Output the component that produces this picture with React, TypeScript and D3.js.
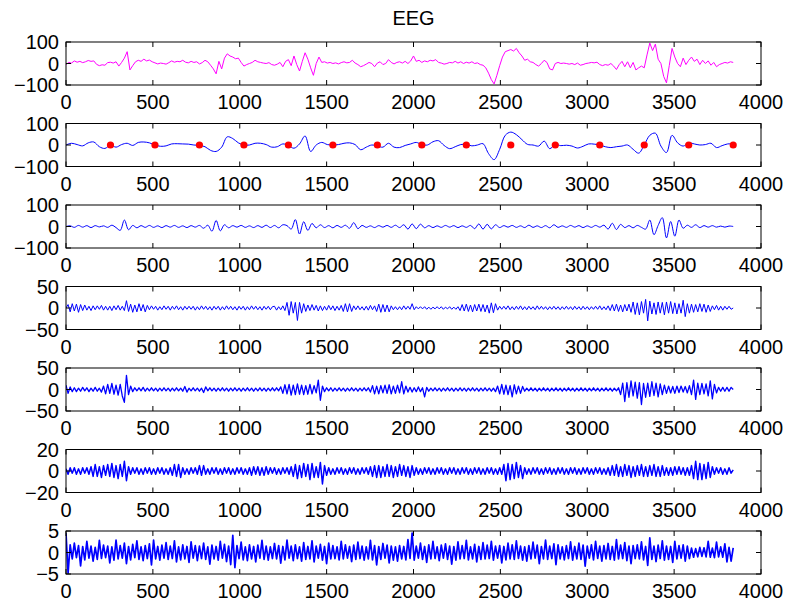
import React from "react";
import * as d3 from "d3";

// sample axis
const X_DOMAIN = [0, 4000];
const X_TICKS = [0, 500, 1000, 1500, 2000, 2500, 3000, 3500, 4000];

// y ticks for each row
const Y_TICKS_100 = [-100, 0, 100];
const Y_TICKS_50 = [-50, 0, 50];
const Y_TICKS_20 = [-20, 0, 20];
const Y_TICKS_5 = [-5, 0, 5];

// raw EEG, one value every 16 samples
const RAW_STEP = 16;
const rawEeg = [
  -5, 5, 2, 12, 6, 10, 4, 8, 14, 10,
  12, -4, -10, -6, -8, 4, 6, 2, 8, -12,
  5, 25, 55, -30, -10, 8, 15, 10, 20, 12,
  16, 8, 3, -2, 2, 0, -3, 4, 12, 6,
  10, 8, 15, 6, 3, 10, 5, 8, -2, 4,
  15, 8, -8, -25, -48, 10, -25, 25, 45, 35,
  30, 22, 25, 5, -12, -5, 0, 5, 15, 8,
  5, 2, 0, 4, -5, -8, -3, 5, -15, 10,
  18, -10, 35, -5, -35, 10, 50, 20, -20, -55,
  0, 30, 5, 8, 2, 5, 0, 3, -2, 4,
  8, 3, 5, 15, 2, -5, -15, -10, -3, 5,
  0, -15, 2, 8, -5, 0, 18, 5, -2, 5,
  8, 2, 10, 0, 12, 35, 10, 15, 5, 12,
  8, 15, 12, 18, 5, 2, -3, 0, 5, 3,
  10, 2, 8, 0, 6, 2, 8, 0, 3, -5,
  -8, -20, -45, -75, -95, -55, -10, 30, 55, 60,
  65, 58, 70, 50, 35, 15, 20, 8, 5, -5,
  -12, 0, 15, 5, -25, -30, 0, 5, 0, 2,
  0, -3, 0, -5, 2, -8, -5, 0, 2, 5,
  3, 6, -5, -10, -5, -8, 0, -12, -28, -5,
  10, -15, 8, -20, 5, -30, -20, -12, -20, 40,
  95, 60, 90, 20, 0, -60, -90, -10, 70, 30,
  0, -15, 25, -5, 15, 30, 10, 20, -5, 15,
  0, 12, -8, 5, -15, -5, 0, 5, 2, 8,
  5,
];

// smoothed band, one value every 32 samples
const SMOOTH_STEP = 32;
const smoothBand = [
  0, 8, 2, -4, 10, 14, -8, -16, 0, -10,
  2, 8, -2, 12, 14, 10, 0, -6, -4, 5,
  6, 5, 4, 0, -2, -8, -25, -30, -10, 38,
  30, 10, 0, 0, 8, 8, 2, -10, -8, 5,
  -2, -15, 5, 42, -30, 0, 12, 2, 0, 2,
  8, 10, 2, -22, -10, 0, -5, -10, 8, -10,
  -12, -2, 5, 12, 2, 0, 15, 20, -2, -17,
  -8, 2, 3, -4, 0, 6, -40, -68, -20, 45,
  60, 48, 25, 3, 0, -5, 18, -17, 2, -3,
  -1, -5, -14, -6, 5, 4, 0, -8, -12, -8,
  -5, 0, -20, -38, 0, 45, 55, -5, -35, 45,
  10, -5, 10, 5, 0, 2, 8, -12, -3, 5,
  5,
];

// sample positions of the red markers
const markerSamples = [256, 512, 768, 1024, 1280, 1536, 1792, 2048, 2304, 2560, 2816, 3072, 3328, 3584, 3840];
const markerValues = [0, 0, 0, 0, 0, 0, 0, 0, 0, 0, 0, 0, 0, 0, 0];

// band 3, one value every 24 samples
const BAND3_STEP = 24;
const band3 = [
  0, 3, -4, 5, -3, 4, -5, 4, -2, 3,
  -4, 6, -5, -18, 30, -15, 5, -6, 4, -4,
  5, -4, 3, -5, 4, -3, 5, -4, 3, -5,
  4, -3, 5, -8, 6, -22, 28, -20, 8, -6,
  4, -3, 5, -4, 3, -5, 4, -4, 6, -5,
  5, -6, 8, 4, -12, 32, -35, 22, -18, 14,
  -6, 8, -5, 4, -6, 5, -4, 6, -8, 18,
  -10, 5, -4, 3, -5, 4, -3, 5, -4, 6,
  -5, 8, -12, 12, -10, 11, -6, 4, -5, 3,
  -4, 5, -3, 4, -5, 3, -4, 5, -10, 12,
  -12, 10, -11, 8, -5, 4, -3, 5, -4, 3,
  -5, 6, -4, 3, -5, 4, -6, 8, -4, 3,
  -4, 5, -3, 4, -5, 3, -4, 5, -3, 6,
  -12, 15, -14, 10, -5, 4, -6, 5, -4, -12,
  30, -38, 5, 41, -53, 23, -45, 30, -8, 6,
  -4, 8, -5, 4, -3, 4, -3, 2, -3, 2,
  0,
];

// bands 4..7, one value every 12 samples
const FINE_STEP = 12;
const band4 = [
  0, 8, -9, 10, -7, 9, -10, 8, -6, 7,
  -5, 4, -6, 5, -4, 5, -3, 6, -5, 4,
  -5, 4, -6, 5, -4, 6, -5, 4, -6, 17,
  -8, 9, -10, 7, -9, 10, -7, 8, -9, 6,
  -4, 5, -3, 4, -5, 3, -4, 5, -3, 4,
  -5, 4, -3, 5, -4, 3, -5, 4, -3, 4,
  -3, 4, -5, 3, -4, 5, -3, 4, -4, 3,
  -5, 4, -3, 4, -5, 3, -4, 5, -3, 4,
  -4, 3, -5, 4, -3, 4, -5, 3, -4, 5,
  -3, 4, -4, 3, -5, 4, -3, 4, -4, 3,
  4, -5, 3, -4, 5, -6, 13, -17, 15, -12,
  13, -29, 13, -12, 10, -8, 7, -6, 8, -5,
  6, -7, 5, -6, 4, -5, 6, -4, 5, -6,
  4, -5, 6, -8, 10, -9, 10, -8, 5, -4,
  5, -4, 3, -5, 4, -5, 6, -4, 5, -8,
  9, -10, 8, -9, 7, -9, 5, -4, 3, -4,
  3, -4, 5, -3, 4, -3, 10, -4, 3, -2,
  3, -2, 3, -3, 2, -3, 2, -2, 3, -2,
  3, -3, 2, -2, 3, -3, 2, -3, 3, -6,
  8, -7, 9, -8, 7, -9, 8, -7, 9, -8,
  8, -9, 7, -12, 12, -11, 10, -5, 4, -3,
  4, -3, 5, -4, 3, -4, 4, -3, 5, -4,
  3, -4, 4, -3, 3, -4, 5, -3, 4, -3,
  3, -4, 3, -3, 4, -3, 3, -4, 3, -3,
  4, -3, 3, -4, 4, -3, 3, -4, 4, -3,
  3, -4, 3, -3, 4, -3, 5, -4, 3, -4,
  5, -6, 8, -7, 9, -8, 7, -9, 8, -7,
  9, -10, 14, -15, 12, -16, 15, -12, 20, -30,
  16, -14, 12, -15, 14, -12, 13, -16, 14, -12,
  15, -13, 12, -14, 10, -12, 18, -20, 10, -12,
  9, -10, 8, -9, 10, -8, 9, -10, 7, -8,
  5, -4, 6, -5, 4, -5, 4, -3, 4, -3,
  0,
];

const band5 = [
  10, -9, 6, -5, 4, -5, 3, -4, 5, -3,
  4, -5, 3, -4, 5, -4, 3, -6, 8, -10,
  12, -9, 14, -11, 10, -13, 12, -15, -30, 33,
  -12, 8, -5, 4, -3, 4, -3, 5, -4, 3,
  -3, 4, -3, 3, -4, 3, -3, 4, -3, 3,
  -4, 3, -3, 4, -3, 3, -4, 7, -6, 3,
  -3, 4, -3, 3, -4, 3, -7, 6, -3, 4,
  -3, 3, -4, 3, -3, 4, -3, 3, -4, 3,
  -3, 4, -3, 3, -4, 3, -3, 4, -3, 3,
  -4, 3, -3, 4, -3, 3, -4, 3, -3, 4,
  -3, 4, -3, 6, -9, 11, -10, 12, -13, 10,
  -12, 13, -11, 10, -12, 9, -11, 12, -10, 9,
  -8, 22, -25, 8, -5, 4, -3, 4, -4, 3,
  -3, 4, -3, 3, -4, 3, -3, 4, -3, 3,
  -4, 3, -3, 4, -3, 4, -6, 9, -10, 8,
  -10, 9, -8, 10, -9, 11, -10, 8, -9, 10,
  -8, 18, -10, 8, -6, 5, -6, 4, -5, 6,
  -5, 4, -17, 5, -4, 3, -3, 4, -3, 3,
  -4, 3, -3, 4, -3, 3, -4, 3, -3, 4,
  -3, 3, -4, 3, -3, 4, -3, 3, -4, 3,
  -3, 4, -3, 3, -4, 3, -5, 8, -10, 12,
  -11, 10, -12, 9, -17, 11, -10, 8, -9, 7,
  -4, 3, -3, 4, -3, 3, -4, 3, -3, 4,
  -3, 3, -4, 3, -3, 4, -3, 3, -4, 3,
  -3, 4, -3, 3, -4, 3, -3, 4, -3, 3,
  -4, 3, -3, 4, -3, 3, -4, 3, -3, 4,
  -3, 3, -4, 3, -3, 4, -12, 15, -28, 16,
  -18, 20, -15, 17, -20, 16, -35, 14, -18, 15,
  -16, 18, -14, 15, -17, 13, -12, 10, -9, 8,
  -8, 7, -9, 8, -7, 8, -6, 7, -8, 9,
  -12, 22, -23, 15, -12, 14, -10, 13, -15, 20,
  -22, 12, -8, 5, -4, 5, -4, 5, -4, 5,
  0,
];

const band6 = [
  2, -3, 3, -2, 3, -3, 2, -3, 3, -2,
  3, -3, 4, -5, 6, -5, 4, -6, 5, -4,
  6, -5, 7, -6, 5, -7, 6, -5, 9, -9,
  4, -3, 3, -2, 3, -3, 2, -3, 3, -2,
  3, -3, 2, -3, 3, -2, 3, -3, 2, -3,
  3, -4, 6, -5, 6, -6, 3, -3, 2, -3,
  3, -2, 3, -3, 5, -4, 5, -3, 2, -3,
  3, -2, 3, -3, 2, -3, 3, -2, 3, -3,
  2, -3, 3, -2, 3, -3, 2, -3, 3, -4,
  4, -3, 4, -4, 3, -4, 4, -3, 3, -2,
  3, -3, 2, -3, 3, -2, 3, -3, 4, -5,
  6, -7, 5, -6, 7, -5, 6, -8, 7, -6,
  4, -6, 8, -12, 5, -4, 3, -3, 2, -3,
  3, -2, 3, -3, 2, -3, 3, -2, 3, -3,
  2, -3, 3, -2, 3, -3, 4, -5, 5, -6,
  5, -6, 4, -5, 6, -5, 5, -6, 4, -5,
  6, -4, 5, -5, 4, -6, 5, -4, 3, -3,
  2, -3, 3, -2, 3, -3, 2, -3, 3, -2,
  3, -3, 2, -3, 3, -2, 3, -3, 2, -3,
  3, -2, 3, -3, 2, -3, 3, -2, 3, -3,
  2, -3, 3, -2, 3, -3, 2, -3, 3, -3,
  6, -9, 7, -8, 6, -7, 8, -6, 5, -7,
  3, -3, 2, -3, 3, -2, 3, -3, 2, -3,
  3, -2, 3, -3, 2, -3, 3, -2, 3, -3,
  2, -3, 3, -2, 3, -3, 2, -3, 3, -2,
  3, -3, 2, -3, 3, -2, 3, -3, 2, -3,
  3, -4, 5, -4, 6, -5, 4, -5, 6, -4,
  5, -6, 4, -5, 5, -4, 6, -5, 4, -5,
  5, -4, 6, -5, 4, -5, 5, -4, 3, -4,
  3, -4, 4, -3, 4, -3, 3, -4, 3, -4,
  5, -7, 9, -8, 7, -8, 6, -7, 8, -6,
  4, -3, 3, -2, 3, -3, 2, -3, 3, -2,
  1,
];

const band7 = [
  4.5, -4.8, 1.8, -1.5, 2.2, -1.2, 1.6, -3.1, 1.4, -1.7,
  2.6, -1.3, 1.5, -2.0, 1.2, -1.6, 2.8, -1.4, 1.7, -1.2,
  1.5, -2.4, 1.3, -1.8, 2.9, -1.5, 1.6, -1.3, 2.2, -2.6,
  1.4, -1.7, 1.9, -1.2, 2.7, -1.6, 1.3, -1.9, 1.6, -1.4,
  2.0, -2.9, 2.9, -1.5, 1.4, -1.8, 1.7, -1.3, 2.3, -1.6,
  1.5, -1.4, 2.7, -2.2, 1.3, -1.7, 1.8, -1.5, 1.4, -2.3,
  2.5, -1.3, 1.6, -1.9, 1.5, -1.4, 2.2, -1.6, 1.3, -2.7,
  1.7, -1.5, 1.4, -1.8, 2.6, -1.3, 1.9, -2.1, 1.5, -2.8,
  4.0, -3.5, 1.6, -1.4, 2.4, -1.7, 1.3, -1.9, 1.8, -1.5,
  1.4, -2.2, 1.7, -1.3, 2.8, -1.6, 1.5, -1.8, 1.3, -1.4,
  2.1, -1.5, 1.6, -2.5, 1.4, -1.7, 2.9, -1.3, 1.5, -1.9,
  1.8, -1.4, 1.3, -2.0, 2.3, -1.6, 1.4, -1.5, 2.7, -2.2,
  1.5, -1.3, 1.9, -1.8, 1.4, -2.6, 2.2, -1.5, 1.6, -1.4,
  1.3, -1.7, 2.6, -1.5, 1.8, -1.3, 1.4, -2.1, 1.7, -1.6,
  2.4, -1.4, 1.5, -1.8, 1.3, -1.5, 2.8, -1.7, 1.6, -2.9,
  1.4, -1.6, 2.1, -1.3, 1.7, -2.4, 1.5, -1.8, 1.3, -2.0,
  1.6, -1.5, 1.4, -1.7, 3.0, -1.4, 4.5, -1.8, 1.5, -1.3,
  2.2, -1.6, 1.4, -2.3, 1.8, -1.5, 2.6, -1.4, 1.3, -1.9,
  1.7, -1.3, 2.0, -1.6, 1.5, -2.7, 1.4, -1.8, 2.5, -1.5,
  1.6, -1.4, 2.8, -1.7, 1.3, -1.5, 1.9, -2.2, 1.4, -1.6,
  2.3, -1.5, 1.7, -1.4, 2.6, -1.8, 1.5, -1.3, 1.6, -2.4,
  1.4, -1.7, 2.2, -1.5, 1.8, -1.6, 2.7, -1.4, 1.5, -1.8,
  1.3, -2.0, 1.6, -1.5, 2.4, -1.3, 1.7, -2.6, 1.4, -1.5,
  2.9, -1.6, 1.5, -1.4, 2.0, -2.8, 1.8, -1.5, 1.3, -1.7,
  1.6, -1.4, 2.5, -1.8, 1.4, -1.5, 2.2, -1.6, 1.7, -3.2,
  1.5, -1.3, 1.8, -1.7, 2.6, -1.4, 1.5, -2.0, 1.6, -1.5,
  2.1, -1.6, 1.4, -1.8, 3.0, -1.5, 1.7, -1.4, 2.3, -1.9,
  1.5, -2.6, 1.6, -1.4, 1.8, -1.5, 2.5, -1.7, 1.4, -3.0,
  3.4, -1.6, 1.5, -2.1, 1.7, -1.4, 2.7, -1.8, 1.5, -1.6,
  1.4, -2.3, 2.6, -1.5, 1.6, -1.3, 1.8, -2.0, 1.5, -1.4,
  1.0, -1.1, 0.9, -1.0, 1.2, -0.9, 1.1, -1.0, 2.6, -1.1,
  1.0, -1.2, 2.4, -1.0, 1.3, -1.1, 2.0, -2.2, 1.2, -2.0,
  1.1,
];

const panels = [
  { values: rawEeg, step: RAW_STEP, ticks: Y_TICKS_100, color: "#ff00ff", smooth: false, lw: 1 },
  { values: smoothBand, step: SMOOTH_STEP, ticks: Y_TICKS_100, color: "#0000ff", smooth: true, lw: 1 },
  { values: band3, step: BAND3_STEP, ticks: Y_TICKS_100, color: "#0000ff", smooth: true, lw: 1 },
  { values: band4, step: FINE_STEP, ticks: Y_TICKS_50, color: "#0000ff", smooth: false, lw: 1 },
  { values: band5, step: FINE_STEP, ticks: Y_TICKS_50, color: "#0000ff", smooth: false, lw: 1.3 },
  { values: band6, step: FINE_STEP, ticks: Y_TICKS_20, color: "#0000ff", smooth: false, lw: 1.5 },
  { values: band7, step: FINE_STEP, ticks: Y_TICKS_5, color: "#0000ff", smooth: false, lw: 1.7 },
];

const W = 788;
const H = 609;
const left = 66;
const right = 761;
const firstTop = 42;
const rowGap = 81.5;
const boxH = 43;
const tickLen = 5;
const font = "'Liberation Sans', Arial, Helvetica, sans-serif";
const fmt = (v: number) => (v < 0 ? "\u2212" + Math.abs(v) : String(v));

export default function App() {
  const x = d3.scaleLinear().domain(X_DOMAIN).range([left, right]);

  return (
    <svg
      width={W}
      height={H}
      style={{ position: "absolute", left: 0, top: 0, background: "#fff" }}
      fontFamily={font}
    >
      <rect width={W} height={H} fill="#fff" />
      <text x={(left + right) / 2} y={25} fontSize={20} textAnchor="middle">
        EEG
      </text>
      {panels.map((p, k) => {
        const top = firstTop + k * rowGap;
        const bottom = top + boxH;
        const y = d3
          .scaleLinear()
          .domain([p.ticks[0], p.ticks[p.ticks.length - 1]])
          .range([bottom, top]);
        const line = d3
          .line<number>()
          .x((_, i) => x(i * p.step))
          .y((d) => y(d))
          .curve(p.smooth ? d3.curveCatmullRom : d3.curveLinear);
        return (
          <g key={k}>
            <defs>
              <clipPath id={"clip" + k}>
                <rect x={left} y={top} width={right - left} height={boxH} />
              </clipPath>
            </defs>
            <rect x={left} y={top} width={right - left} height={boxH} fill="#fff" />
            <path
              d={line(p.values) || ""}
              fill="none"
              stroke={p.color}
              strokeWidth={p.lw}
              strokeLinejoin="round"
              clipPath={`url(#clip${k})`}
            />
            {k === 1 &&
              markerSamples.map((s, i) => (
                <circle key={s} cx={x(s)} cy={y(markerValues[i])} r={3.6} fill="#ff0000" />
              ))}
            <rect
              x={left}
              y={top}
              width={right - left}
              height={boxH}
              fill="none"
              stroke="#000"
              strokeWidth={1}
            />
            {X_TICKS.map((t) => (
              <g key={"x" + t}>
                <line x1={x(t)} x2={x(t)} y1={bottom} y2={bottom - tickLen} stroke="#000" />
                <line x1={x(t)} x2={x(t)} y1={top} y2={top + tickLen} stroke="#000" />
                <text x={x(t)} y={bottom + 24} fontSize={20} textAnchor="middle">
                  {fmt(t)}
                </text>
              </g>
            ))}
            {p.ticks.map((t) => (
              <g key={"y" + t}>
                <line x1={left} x2={left + tickLen} y1={y(t)} y2={y(t)} stroke="#000" />
                <line x1={right} x2={right - tickLen} y1={y(t)} y2={y(t)} stroke="#000" />
                <text x={left - 7} y={y(t)} dy="0.36em" fontSize={20} textAnchor="end">
                  {fmt(t)}
                </text>
              </g>
            ))}
          </g>
        );
      })}
    </svg>
  );
}
